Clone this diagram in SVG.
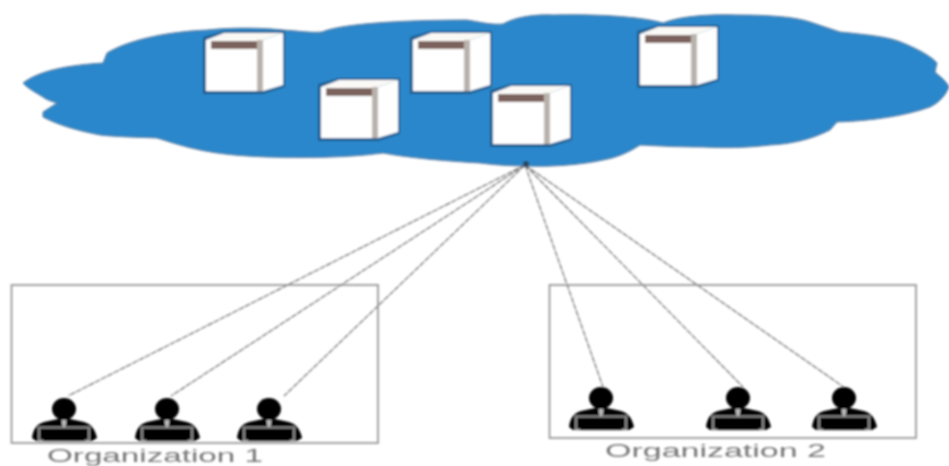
<svg xmlns="http://www.w3.org/2000/svg" width="949" height="466" viewBox="0 0 949 466">
<style>
.org{fill:none;stroke:#8c8c8c;stroke-width:1.6}
.link{stroke:#6f6f6f;stroke-width:1.2;stroke-dasharray:6 1;fill:none}
.lbl{font-family:"Liberation Sans",Arial,sans-serif;font-size:18px;fill:#777}
.dark{fill:#050505}
</style>
<defs>
<filter id="soft" x="-2%" y="-2%" width="104%" height="104%"><feGaussianBlur stdDeviation="0.9"/></filter>
<g id="server">
<path d="M-3 -3L18 -9L79 -9V47L57 54H-3Z" fill="#1c5f92"/>
<path d="M0 0L18 -7H77L57 0Z" fill="#fbf9f6"/>
<rect x="0" y="0" width="51" height="51" fill="#fff"/>
<rect x="5" y="1" width="46" height="8" fill="#7c625c"/>
<rect x="51" y="0" width="6" height="51" fill="#b9b2ac"/>
<path d="M57 0L77 -7V45L57 51Z" fill="#fff"/>
</g>
<g id="person">
<ellipse cx="0" cy="0" rx="12" ry="11" class="dark"/>
<rect x="-5" y="8" width="10" height="6" class="dark"/>
<path d="M-32 29C-31 20-27 15-20 13L-6 10L6 10L20 13C27 15 31 20 33 29L28 32H-28Z" class="dark"/>
<path d="M-2.500 11H2.500L1.500 18H-1.500Z" fill="#bbb"/>
<rect x="-25" y="18.500" width="50" height="13" fill="#050505" stroke="#999" stroke-width="1.800"/>
<rect x="-21" y="21" width="42" height="11" class="dark"/>
</g>
</defs>
<rect width="949" height="466" fill="#fff"/>
<g filter="url(#soft)">
<g id="cloud">
<path d="M23 83C40 70 70 65 103 63L107 53C125 42 160 32 207 30C235 27 265 28 283 30C300 31 310 33 322 32C340 24 400 20 467 20C480 22 490 25 503 24C515 17 535 14 553 15C590 14 640 16 663 23C680 16 710 14 737 15C770 15 795 17 810 22L840 32C870 35 890 37 903 43C920 50 932 57 937 63L935 72C942 78 947 82 949 87C945 97 938 103 930 107C905 116 870 121 837 122L830 130C810 140 790 144 770 145C745 148 725 148 703 147C680 147 660 146 640 145C628 153 615 158 603 160C580 165 550 167 527 166C510 166 495 165 480 163C445 161 410 158 383 153C345 158 305 158 267 157C240 156 220 154 200 150C185 147 170 142 157 138C135 137 118 137 100 135C80 131 60 126 43 117V112L57 103C50 101 45 99 43 97C35 92 27 88 23 83Z" fill="#2b87cb" stroke="#5f7f9c" stroke-width="1"/>
</g>
<g id="server1"><use href="#server" x="206" y="40"/></g>
<g id="server2"><use href="#server" x="321" y="87"/></g>
<g id="server3"><use href="#server" x="413" y="40"/></g>
<g id="server4"><use href="#server" x="493" y="93"/></g>
<g id="server5"><use href="#server" x="640" y="34"/></g>
<g id="connectors">
<path class="link" d="M525 165L68 396"/>
<path class="link" d="M525 165L171 396"/>
<path class="link" d="M525 165L284 396"/>
<path class="link" d="M525 165L603 387"/>
<path class="link" d="M525 165L743 387"/>
<path class="link" d="M525 165L845 388"/>
<circle cx="526" cy="164" r="3" fill="#26465f"/>
</g>
<g id="org1">
<rect class="org" x="11.500" y="285" width="366.500" height="158"/>
<use href="#person" x="64" y="409"/>
<use href="#person" x="167" y="409"/>
<use href="#person" x="269" y="409"/>
<text class="lbl" x="47" y="461.500" textLength="216" lengthAdjust="spacingAndGlyphs">Organization 1</text>
</g>
<g id="org2">
<rect class="org" x="549.500" y="285" width="366.500" height="153"/>
<use href="#person" x="601" y="398"/>
<use href="#person" x="738" y="398"/>
<use href="#person" x="844" y="398"/>
<text class="lbl" x="605" y="457" textLength="221" lengthAdjust="spacingAndGlyphs">Organization 2</text>
</g>
</g>
</svg>
